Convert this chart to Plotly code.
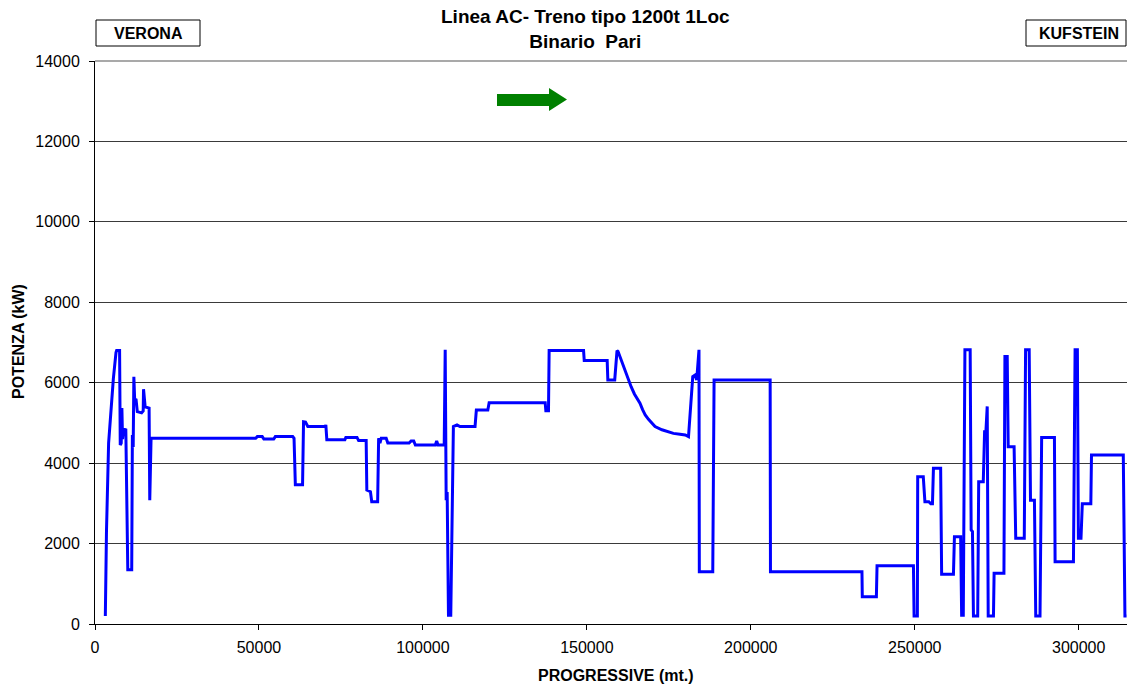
import plotly.graph_objects as go

# ---------------- data ----------------
progressive_m = [
    3150, 3500, 4150, 4800, 5600, 6400, 6600, 7500, 7700, 8000, 8200, 8400, 8700, 9400, 9800, 10000,
    11200, 11400, 11650, 11850, 12100, 12500, 12900, 14200, 14700, 14800, 15300, 16500, 16700, 17100,
    49000, 49500, 51000, 51500, 54500, 55000, 60300, 60700, 61100, 63300, 63600, 64200, 64900, 70200,
    70400, 70700, 76200, 76500, 79900, 80400, 82700, 82900, 84000, 84400, 86200, 86500, 86900, 87300,
    88800, 89300, 95800, 96400, 97200, 97700, 103800, 104200, 104600, 106500, 106800, 107100, 107400,
    107800, 108500, 109300, 110400, 111300, 115900, 116300, 119800, 120200, 137300, 137500, 138300,
    138500, 149000, 149200, 156200, 156400, 158500, 159200, 159500, 160500, 161500, 162500, 163500,
    164500, 165500, 166200, 167000, 167800, 168800, 169800, 170800, 172900, 174500, 176400, 178400,
    180000, 181000, 182300, 183000, 183500, 184200, 184300, 188400, 188800, 205900, 206000, 233900,
    234000, 238300, 238500, 249600, 249800, 250800, 250900, 252600, 253100, 254300, 254900, 255400,
    255700, 257900, 258200, 261800, 262100, 264000, 264300, 264800, 265300, 266900, 267200, 267600,
    267900, 269200, 269500, 270900, 271300, 271700, 272100, 272400, 274000, 274200, 277200, 277500,
    278200, 278500, 280300, 280800, 283400, 283800, 284900, 285300, 286500, 286900, 288200, 288700,
    292600, 292800, 298400, 298900, 299600, 299900, 300700, 301100, 303700, 303900, 313600, 314100,
    314600,
]
potenza_kw = [
    200, 2300, 4500, 5300, 6100, 6750, 6800, 6800, 4450, 4500, 5370, 4600, 4850, 4830, 1800, 1350,
    1350, 4700, 4400, 6150, 5570, 5600, 5280, 5250, 5300, 5840, 5400, 5370, 3080, 4620,
    4620, 4660, 4660, 4600, 4600, 4660, 4660, 4620, 3460, 3460, 5030, 5020, 4910, 4910,
    4950, 4580, 4580, 4640, 4640, 4560, 4560, 3330, 3290, 3040, 3040, 4620, 4500, 4620,
    4620, 4500, 4500, 4550, 4550, 4450, 4450, 4550, 4450, 4450, 6820, 3080, 3280,
    220, 220, 4910, 4950, 4910, 4910, 5320, 5320, 5500, 5500, 5300, 5300,
    6800, 6800, 6550, 6550, 6070, 6070, 6800, 6780, 6550, 6320, 6100, 5900,
    5720, 5580, 5490, 5330, 5200, 5090, 4990, 4910, 4830, 4790, 4740, 4720,
    4700, 4660, 6150, 6190, 6070, 6820, 1300, 1300, 6070, 6070, 1300, 1300,
    680, 680, 1450, 1450, 200, 200, 3660, 3660, 3040, 3040, 2990, 2990,
    3870, 3870, 1240, 1240, 2170, 2170, 220, 220, 6820, 6820, 2340, 2300,
    200, 200, 3540, 3540, 4780, 4780, 5410, 200, 200, 1260, 1260, 6650,
    6650, 4410, 4410, 2130, 2130, 6820, 6820, 3080, 3080, 200, 200, 4640,
    4640, 1550, 1550, 6820, 6820, 2130, 2130, 2990, 2990, 4200, 4200, 200,
    200,
]
y_ticks = [0, 2000, 4000, 6000, 8000, 10000, 12000, 14000]
x_ticks = [0, 50000, 100000, 150000, 200000, 250000, 300000]

title_text = "Linea AC- Treno tipo 1200t 1Loc<br>Binario  Pari"
x_title = "PROGRESSIVE (mt.)"
y_title = "POTENZA (kW)"
start_station = "VERONA"
end_station = "KUFSTEIN"

# ---------------- layout geometry ----------------
W_FIG, H_FIG = 1127, 685
L, R, T, B = 95, 0, 61, 61
PW = W_FIG - L - R
PH = H_FIG - T - B


def px_x(px):
    return (px - L) / PW


def px_y(py):
    return (H_FIG - B - py) / PH


FONT = "Arial, Liberation Sans, sans-serif"

fig = go.Figure()
fig.add_trace(go.Scatter(
    x=progressive_m, y=potenza_kw, mode="lines",
    line=dict(color="#0000FF", width=3),
    hoverinfo="skip", showlegend=False,
))

shapes = []
# top gray border line
shapes.append(dict(type="line", xref="paper", yref="paper", x0=0, x1=1, y0=1, y1=1,
                   line=dict(color="#8c8c8c", width=1.5), layer="above"))
# station boxes
shapes.append(dict(type="rect", xref="paper", yref="paper",
                   x0=px_x(96), x1=px_x(200), y0=px_y(46), y1=px_y(20),
                   line=dict(color="black", width=1), fillcolor="white"))
shapes.append(dict(type="rect", xref="paper", yref="paper",
                   x0=px_x(1026), x1=px_x(1126), y0=px_y(46), y1=px_y(20),
                   line=dict(color="black", width=1), fillcolor="white"))
# direction arrow
pts = [(497, 94), (549, 94), (549, 88), (567, 99.5), (549, 111), (549, 106), (497, 106)]
path = "M " + " L ".join(f"{px_x(a):.5f},{px_y(b):.5f}" for a, b in pts) + " Z"
shapes.append(dict(type="path", xref="paper", yref="paper", path=path,
                   fillcolor="#008000", line=dict(color="#008000", width=0)))

annotations = [
    dict(text=f"<b>{title_text}</b>", xref="paper", yref="paper", x=px_x(585.5), y=px_y(29),
         xanchor="center", yanchor="middle", showarrow=False, font=dict(family=FONT, size=19, color="black")),
    dict(text=f"<b>{x_title}</b>", xref="paper", yref="paper", x=px_x(616), y=px_y(675),
         xanchor="center", yanchor="middle", showarrow=False, font=dict(family=FONT, size=16, color="black")),
    dict(text=f"<b>{y_title}</b>", xref="paper", yref="paper", x=px_x(18), y=px_y(342),
         xanchor="center", yanchor="middle", textangle=-90, showarrow=False,
         font=dict(family=FONT, size=16, color="black")),
    dict(text=f"<b>{start_station}</b>", xref="paper", yref="paper", x=px_x(148), y=px_y(33),
         xanchor="center", yanchor="middle", showarrow=False, font=dict(family=FONT, size=16, color="black")),
    dict(text=f"<b>{end_station}</b>", xref="paper", yref="paper", x=px_x(1079), y=px_y(33),
         xanchor="center", yanchor="middle", showarrow=False, font=dict(family=FONT, size=16, color="black")),
]

fig.update_layout(
    width=W_FIG, height=H_FIG,
    margin=dict(l=L, r=R, t=T, b=B, pad=0),
    paper_bgcolor="white", plot_bgcolor="white",
    font=dict(family=FONT, size=16, color="black"),
    shapes=shapes, annotations=annotations,
    showlegend=False,
)
fig.update_xaxes(
    range=[0, PW / 3.279 * 1000], tickvals=x_ticks, ticktext=[str(v) for v in x_ticks],
    showgrid=False, zeroline=False, showline=True, linecolor="black", linewidth=1,
    ticks="outside", ticklen=5, tickcolor="black", ticklabelstandoff=4,
    tickfont=dict(family=FONT, size=16, color="black"),
)
fig.update_yaxes(
    range=[0, 14000], tickvals=y_ticks, ticktext=[str(v) for v in y_ticks],
    showgrid=True, gridcolor="#3a3a3a", gridwidth=1, zeroline=False,
    showline=True, linecolor="black", linewidth=1,
    ticks="outside", ticklen=5, tickcolor="black", ticklabelstandoff=6,
    tickfont=dict(family=FONT, size=16, color="black"),
)

fig.write_html("out.html")
